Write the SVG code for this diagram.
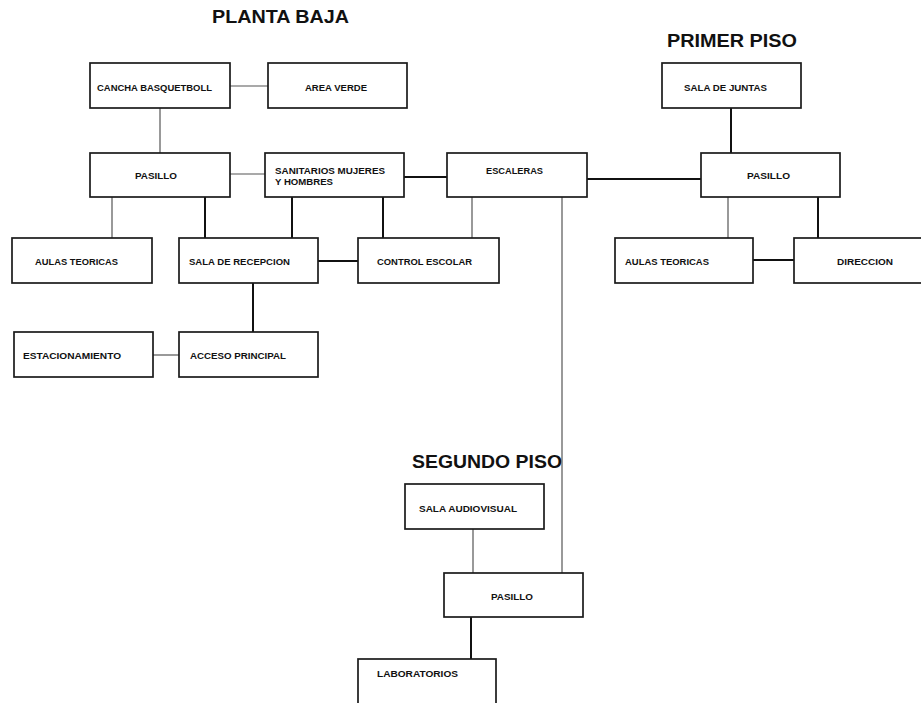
<svg xmlns="http://www.w3.org/2000/svg" width="921" height="703" viewBox="0 0 921 703">
<style>
.bg{fill:#fff}
.box{fill:#fff;stroke:#1a1a1a;stroke-width:1.7}
.lbl{font-family:"Liberation Sans",Arial,sans-serif;font-weight:bold;font-size:9.8px;fill:#111}
.title{font-family:"Liberation Sans",Arial,sans-serif;font-weight:bold;font-size:19px;fill:#111}
.thin{stroke:#555;stroke-width:1.2;fill:none}
.thick{stroke:#111;stroke-width:2;fill:none}
</style>
<rect class="bg" x="0" y="0" width="921" height="703"/>
<text class="title" x="212" y="23" textLength="137" lengthAdjust="spacingAndGlyphs">PLANTA BAJA</text>
<text class="title" x="667" y="47" textLength="130" lengthAdjust="spacingAndGlyphs">PRIMER PISO</text>
<text class="title" x="412" y="468" textLength="150" lengthAdjust="spacingAndGlyphs">SEGUNDO PISO</text>
<g id="connectors">
<line class="thin" x1="230" y1="86" x2="268" y2="86"/>
<line class="thin" x1="160" y1="108" x2="160" y2="153"/>
<line class="thin" x1="230" y1="174" x2="265" y2="174"/>
<line class="thick" x1="404" y1="177" x2="447" y2="177"/>
<line class="thin" x1="112" y1="197" x2="112" y2="238"/>
<line class="thick" x1="205" y1="197" x2="205" y2="238"/>
<line class="thick" x1="292" y1="197" x2="292" y2="238"/>
<line class="thick" x1="383" y1="197" x2="383" y2="238"/>
<line class="thin" x1="472" y1="197" x2="472" y2="238"/>
<line class="thin" x1="562" y1="197" x2="562" y2="573"/>
<line class="thick" x1="318" y1="261" x2="358" y2="261"/>
<line class="thick" x1="253" y1="283" x2="253" y2="332"/>
<line class="thin" x1="153" y1="355" x2="179" y2="355"/>
<line class="thick" x1="587" y1="179" x2="701" y2="179"/>
<line class="thick" x1="731" y1="108" x2="731" y2="153"/>
<line class="thin" x1="728" y1="197" x2="728" y2="238"/>
<line class="thick" x1="818" y1="197" x2="818" y2="238"/>
<line class="thick" x1="753" y1="260" x2="794" y2="260"/>
<line class="thin" x1="473" y1="529" x2="473" y2="573"/>
<line class="thick" x1="471" y1="617" x2="471" y2="659"/>
</g>
<g id="cancha"><rect class="box" x="90" y="63" width="140" height="45"/><text class="lbl" x="97" y="91" textLength="115" lengthAdjust="spacingAndGlyphs">CANCHA BASQUETBOLL</text></g>
<g id="area-verde"><rect class="box" x="268" y="63" width="139" height="45"/><text class="lbl" x="305" y="91" textLength="62" lengthAdjust="spacingAndGlyphs">AREA VERDE</text></g>
<g id="pasillo-pb"><rect class="box" x="90" y="153" width="140" height="44"/><text class="lbl" x="135" y="179" textLength="42" lengthAdjust="spacingAndGlyphs">PASILLO</text></g>
<g id="sanitarios"><rect class="box" x="265" y="153" width="139" height="44"/><text class="lbl" x="275" y="174" textLength="110" lengthAdjust="spacingAndGlyphs">SANITARIOS MUJERES</text><text class="lbl" x="275" y="185" textLength="58" lengthAdjust="spacingAndGlyphs">Y HOMBRES</text></g>
<g id="escaleras"><rect class="box" x="447" y="153" width="140" height="44"/><text class="lbl" x="486" y="174" textLength="57" lengthAdjust="spacingAndGlyphs">ESCALERAS</text></g>
<g id="aulas-pb"><rect class="box" x="12" y="238" width="140" height="45"/><text class="lbl" x="35" y="265" textLength="83" lengthAdjust="spacingAndGlyphs">AULAS TEORICAS</text></g>
<g id="sala-recepcion"><rect class="box" x="179" y="238" width="139" height="45"/><text class="lbl" x="189" y="265" textLength="101" lengthAdjust="spacingAndGlyphs">SALA DE RECEPCION</text></g>
<g id="control-escolar"><rect class="box" x="358" y="238" width="141" height="45"/><text class="lbl" x="377" y="265" textLength="95" lengthAdjust="spacingAndGlyphs">CONTROL ESCOLAR</text></g>
<g id="estacionamiento"><rect class="box" x="14" y="332" width="139" height="45"/><text class="lbl" x="23" y="359" textLength="98" lengthAdjust="spacingAndGlyphs">ESTACIONAMIENTO</text></g>
<g id="acceso"><rect class="box" x="179" y="332" width="139" height="45"/><text class="lbl" x="190" y="359" textLength="96" lengthAdjust="spacingAndGlyphs">ACCESO PRINCIPAL</text></g>
<g id="sala-juntas"><rect class="box" x="662" y="63" width="139" height="45"/><text class="lbl" x="684" y="91" textLength="83" lengthAdjust="spacingAndGlyphs">SALA DE JUNTAS</text></g>
<g id="pasillo-p1"><rect class="box" x="701" y="153" width="139" height="44"/><text class="lbl" x="747" y="179" textLength="43" lengthAdjust="spacingAndGlyphs">PASILLO</text></g>
<g id="aulas-p1"><rect class="box" x="615" y="238" width="138" height="45"/><text class="lbl" x="625" y="265" textLength="84" lengthAdjust="spacingAndGlyphs">AULAS TEORICAS</text></g>
<g id="direccion"><rect class="box" x="794" y="238" width="140" height="45"/><text class="lbl" x="837" y="265" textLength="56" lengthAdjust="spacingAndGlyphs">DIRECCION</text></g>
<g id="sala-audiovisual"><rect class="box" x="405" y="484" width="139" height="45"/><text class="lbl" x="419" y="512" textLength="98" lengthAdjust="spacingAndGlyphs">SALA AUDIOVISUAL</text></g>
<g id="pasillo-p2"><rect class="box" x="444" y="573" width="139" height="44"/><text class="lbl" x="491" y="600" textLength="42" lengthAdjust="spacingAndGlyphs">PASILLO</text></g>
<g id="laboratorios"><rect class="box" x="358" y="659" width="138" height="60"/><text class="lbl" x="377" y="677" textLength="81" lengthAdjust="spacingAndGlyphs">LABORATORIOS</text></g>
</svg>
